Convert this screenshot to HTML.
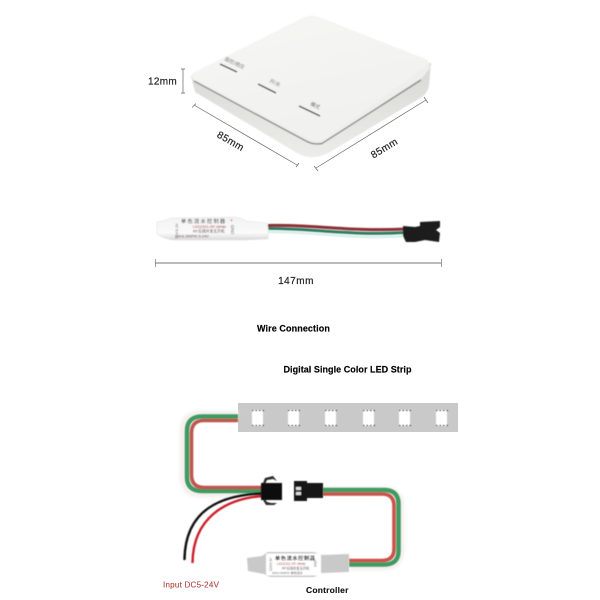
<!DOCTYPE html>
<html>
<head>
<meta charset="utf-8">
<style>
html,body{margin:0;padding:0;background:#fff;width:600px;height:600px;overflow:hidden}
svg{display:block}
text{font-family:"Liberation Sans","Noto Sans CJK SC",sans-serif}
</style>
</head>
<body>
<svg width="600" height="600" viewBox="0 0 600 600" xmlns="http://www.w3.org/2000/svg">
<defs>
<filter id="b" x="-5%" y="-5%" width="110%" height="110%"><feGaussianBlur stdDeviation="0.45"/></filter>
<filter id="b2" x="-10%" y="-10%" width="120%" height="120%"><feGaussianBlur stdDeviation="1.2"/></filter>
<linearGradient id="side" x1="0" y1="0" x2="0" y2="1"><stop offset="0" stop-color="#d8d8d4"/><stop offset="1" stop-color="#ecece9"/></linearGradient>
<linearGradient id="top" x1="0" y1="0" x2="0.4" y2="1"><stop offset="0" stop-color="#f6f6f4"/><stop offset="1" stop-color="#f1f1ef"/></linearGradient>
<linearGradient id="tube" x1="0" y1="0" x2="0" y2="1"><stop offset="0" stop-color="#f2f2f2"/><stop offset="0.7" stop-color="#fafafa"/><stop offset="1" stop-color="#d8d8d8"/></linearGradient>
</defs>

<!-- Box -->
<g filter="url(#b)">
<path d="M191 76 L195 92 L297 153 Q306 158 315 157 Q323 156 330 152 L422 97 Q428 92 429 86 L431 63 Z" fill="url(#side)"/>
<path d="M196 72 L304 18 Q310 15 317 17 L424 59 Q431 62 430 68 L423 77 L325 141 Q318 145 311 142 L196 82 Q188 77 196 72 Z" fill="#eeeeec"/>
<path d="M194 81 L306 141 Q313 145 322 143.500 L421 80" fill="none" stroke="#8f8f88" stroke-width="1.400"/>
<path d="M196 72 L304 18 Q310 15 317 17 L424 59 Q431 62 425 67 L325 138 Q318 142 311 139 L196 80 Q188 76 196 72 Z" fill="url(#top)" stroke="#f2f2f0" stroke-width="1"/>
<line x1="220" y1="64" x2="237" y2="72" stroke="#4a4a44" stroke-width="1.500"/>
<line x1="258" y1="84" x2="276" y2="93" stroke="#4a4a44" stroke-width="1.500"/>
<line x1="299" y1="106" x2="320" y2="116" stroke="#4a4a44" stroke-width="1.500"/>
<text x="0" y="0" font-size="5" fill="#777" transform="translate(224 60) rotate(25)">遥控/感应</text>
<text x="0" y="0" font-size="5" fill="#777" transform="translate(269 82) rotate(25)">开/关</text>
<text x="0" y="0" font-size="5" fill="#666" transform="translate(310 105) rotate(25)">模式</text>
</g>

<!-- Box dimensions -->
<g stroke="#666" stroke-width="0.700" fill="none">
<path d="M183 69 V93 M181 69 H185 M181 93 H185"/>
<path d="M194 105 L297 165 M196 103.500 L192 107.500 M299 163 L296 167"/>
<path d="M316 168 L426 100 M314 166 L318 171 M424 97 L428 103"/>
</g>
<g fill="#222" stroke="#222" stroke-width="0.200">
<text x="148" y="84.500" font-size="10" letter-spacing=".3">12mm</text>
<text x="0" y="0" font-size="10" letter-spacing=".4" text-anchor="middle" transform="translate(229 144) rotate(30)">85mm</text>
<text x="0" y="0" font-size="10" letter-spacing=".4" text-anchor="middle" transform="translate(386 151) rotate(-31)">85mm</text>
<text x="296" y="284" font-size="10" text-anchor="middle" letter-spacing=".5">147mm</text>
</g>

<!-- Controller photo -->
<g filter="url(#b)">
<path d="M268 225.500 C310 224 350 232 405 229" fill="none" stroke="#8c2f35" stroke-width="3"/>
<path d="M268 228.500 C310 228 350 236 405 232.500" fill="none" stroke="#2f7d63" stroke-width="3"/>
<path d="M268 232 C310 231 350 240 405 236" fill="none" stroke="#d9efe8" stroke-width="2.500"/>
<path d="M157 222 Q163 221 172 218 L232 217 Q240 217 246 221 L267 223 Q269 230 268 239 L245 240 L232 240 L172 240 Q162 238 157 234 Z" fill="url(#tube)" stroke="#e2e2e2" stroke-width="0.600"/>
<text x="181" y="223" font-size="5.200" fill="#333" letter-spacing="1.300">单色流水控制器</text>
<text x="193" y="228" font-size="3.800" fill="#a92f2f">LED2201-RF-White</text>
<text x="193" y="232.500" font-size="3.800" fill="#444">RF无线并发无开机</text>
<text x="175" y="237.500" font-size="3.800" fill="#6a3535">20KA 350PIX 5-24V</text>
<text x="0" y="0" font-size="3.800" fill="#666" transform="translate(178 239) rotate(-90)">12V/3.3V</text>
<text x="230" y="222" font-size="5" fill="#c44">+</text>
<text x="0" y="0" font-size="4.200" fill="#444" transform="translate(231 225) rotate(90)">GND</text>
<path d="M403 226 L415 227 L420 226 V222 L440 221 V227 L436 230 L440 233 L439 242 L425 240 L415 242 L406 242 L403 236 Z" fill="#1b1b1b"/>
</g>
<g stroke="#777" fill="none">
<line x1="155" y1="263" x2="441" y2="263" stroke-width="0.900"/>
<path d="M155.500 259 V267 M441.500 259 V267" stroke-width="0.700"/>
</g>

<!-- Headings -->
<g fill="#000" stroke="#000" stroke-width="0.150" font-weight="bold" font-size="9">
<text x="257" y="331.500" letter-spacing=".1">Wire Connection</text>
<text x="283.500" y="372.500" letter-spacing=".05">Digital Single Color LED Strip</text>
</g>

<!-- LED strip -->
<rect x="238" y="403" width="220" height="29" fill="#c9c9c9"/>
<g fill="#fff" filter="url(#b)">
<rect x="252" y="410" width="11" height="16"/><rect x="288" y="410" width="11" height="16"/><rect x="325" y="410" width="11" height="16"/><rect x="363" y="410" width="11" height="16"/><rect x="399" y="410" width="11" height="16"/><rect x="436" y="410" width="11" height="16"/>
</g>
<g stroke="#333" stroke-width="1" stroke-dasharray="1.500 2" filter="url(#b)">
<path d="M252 410.500 H264 M252 425.500 H264 M288 410.500 H300 M288 425.500 H300 M325 410.500 H337 M325 425.500 H337 M363 410.500 H375 M363 425.500 H375 M399 410.500 H411 M399 425.500 H411 M436 410.500 H448 M436 425.500 H448"/>
</g>

<!-- Wire halos -->
<path d="M238 415 H200 Q184 415 184 431 V477 Q184 493 200 493 H262" fill="none" stroke="#f6f1ee" stroke-width="9" filter="url(#b2)"/>
<path d="M323 491 H384 Q400 491 400 507 V550 Q400 566 384 566 H350" fill="none" stroke="#f6f1ee" stroke-width="9" filter="url(#b2)"/>

<!-- Left wires -->
<g fill="none" filter="url(#b)">
<path d="M238 416.500 H202 Q187 416.500 187 431 V477 Q187 491 202 491 H262" stroke="#3f9a62" stroke-width="4.500"/>
<path d="M238 420.500 H204 Q191.500 420.500 191.500 433 V475 Q191.500 487.500 204 487.500 H262" stroke="#c0574e" stroke-width="3.600"/>
<!-- Right wires -->
<path d="M323 490 H384 Q398.500 490 398.500 504 V551 Q398.500 564.500 384 564.500 H349" stroke="#3f9a62" stroke-width="4.500"/>
<path d="M323 494 H382 Q394 494 394 506 V549 Q394 560.500 382 560.500 H349" stroke="#c9524a" stroke-width="3.600"/>
<!-- Power wires -->
<path d="M262 493.500 C220 495 185 510 184.500 560" stroke="#111" stroke-width="2.400"/>
<path d="M262 496 C225 499 193 518 192.500 563" stroke="#cc1f26" stroke-width="2.400"/>
</g>

<!-- Connectors -->
<g filter="url(#b)">
<path d="M261 483 H282 V500 H261 Z" fill="#111"/>
<path d="M263 483 L265 478 L273 476 L277 481 L273 479 L267 480 L265 484 Z M263 500 L266 505 L274 505 L277 503 L271 503 L267 502 L265 499 Z" fill="#2a2a2a"/>
<path d="M294 481 H307 V483 H323 V498 H307 V501 H294 Z" fill="#151515"/>
<rect x="296" y="487" width="5" height="3" fill="#ddd"/>
<rect x="296" y="492" width="5" height="3" fill="#ddd"/>
</g>

<!-- Controller diagram -->
<g filter="url(#b)">
<path d="M247 558 L262 556 L268 552 H314 L322 555 L349 554 V572 L322 573 L314 577 H270 L264 574 L248 571 Z" fill="#c9c9c9"/>
<rect x="266" y="553.500" width="55" height="22" rx="2" fill="#fff"/>
<text x="275" y="560" font-size="5.200" fill="#222" font-weight="bold" letter-spacing=".6">单色流水控制器</text>
<text x="277" y="565" font-size="3.300" fill="#b03c3c">LED2201-RF-White</text>
<text x="282" y="569.500" font-size="3.300" fill="#444">RF无线并发无开机</text>
<text x="272" y="574" font-size="3" fill="#555">20KA 350PIX 单色流水</text>
<text x="0" y="0" font-size="3.200" fill="#555" transform="translate(272 571) rotate(-90)">12V/3.3V</text>
<text x="0" y="0" font-size="3.200" fill="#555" transform="translate(314 560) rotate(90)">GND</text>
</g>

<text x="163" y="587.500" font-size="8" fill="#b0403c" stroke="#b0403c" stroke-width="0.120" letter-spacing=".25">Input DC5-24V</text>
<text x="306" y="593" font-size="8.500" font-weight="bold" fill="#111" stroke="#111" stroke-width="0.120" letter-spacing=".2">Controller</text>
</svg>
</body>
</html>
